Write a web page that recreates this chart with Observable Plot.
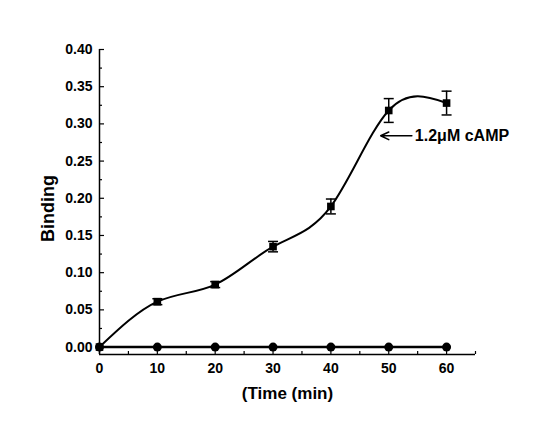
<!DOCTYPE html>
<html>
<head>
<meta charset="utf-8">
<script src="https://cdn.jsdelivr.net/npm/d3@7"></script>
<script src="https://cdn.jsdelivr.net/npm/@observablehq/plot@0.6"></script>
<style>
  html, body { margin: 0; padding: 0; background: #fff; }
  svg { font-family: "Liberation Sans", Arial, sans-serif; }
</style>
</head>
<body>
<div id="chart"></div>
<script>
const times = [0, 10, 20, 30, 40, 50, 60];
const campBinding = [0.000, 0.061, 0.084, 0.135, 0.189, 0.318, 0.328];
const campError = [0.000, 0.004, 0.004, 0.007, 0.010, 0.016, 0.016];
const controlBinding = [0, 0, 0, 0, 0, 0, 0];
const xMajorTicks = [0, 10, 20, 30, 40, 50, 60];
const xMinorTicks = [5, 15, 25, 35, 45, 55, 65];
const yMajorTicks = [0, 0.05, 0.10, 0.15, 0.20, 0.25, 0.30, 0.35, 0.40];
const yMinorTicks = [0.025, 0.075, 0.125, 0.175, 0.225, 0.275, 0.325, 0.375];
const annotationText = "1.2\u03bcM cAMP";
const annotationArrow = {x1: 54.0, x2: 48.6, y: 0.284};
const xLabel = "(Time (min)";
const yLabel = "Binding";

const camp = times.map((t, i) => ({x: t, y: campBinding[i], e: campError[i]}));
const campErr = camp.filter(d => d.e > 0);
const control = times.map((t, i) => ({x: t, y: controlBinding[i]}));

const capSymbol = {
  draw(context) {
    context.moveTo(-5, 0);
    context.lineTo(5, 0);
  }
};

const chart = Plot.plot({
  width: 552,
  height: 426,
  marginLeft: 99,
  marginRight: 77,
  marginTop: 49,
  marginBottom: 72,
  style: {fontFamily: "'Liberation Sans', Arial, sans-serif", background: "#fff"},
  x: {domain: [0, 65], label: null},
  y: {domain: [-0.01, 0.40], label: null},
  marks: [
    // axis lines
    Plot.ruleY([-0.01], {x1: 0, x2: 65, stroke: "black", strokeWidth: 1.5}),
    Plot.ruleX([0], {y1: -0.01, y2: 0.40, stroke: "black", strokeWidth: 1.5}),
    // tick marks (inward)
    Plot.axisX({ticks: xMajorTicks, tickSize: -5, tickFormat: () => "", strokeWidth: 1.2, label: null}),
    Plot.axisX({ticks: xMinorTicks, tickSize: -3, tickFormat: () => "", strokeWidth: 1.2, label: null}),
    Plot.axisY({ticks: yMajorTicks, tickSize: -5, tickFormat: () => "", strokeWidth: 1.2, label: null}),
    Plot.axisY({ticks: yMinorTicks, tickSize: -3, tickFormat: () => "", strokeWidth: 1.2, label: null}),
    // tick labels
    Plot.axisX({ticks: xMajorTicks, tickSize: 0, tickPadding: 9, tickFormat: d3.format("d"),
      fontSize: 14, fontWeight: "bold", fill: "black", label: null}),
    Plot.axisY({ticks: yMajorTicks, tickSize: 0, tickPadding: 7, tickFormat: d3.format(".2f"),
      fontSize: 14, fontWeight: "bold", fill: "black", label: null}),
    // axis titles
    Plot.text([xLabel], {frameAnchor: "bottom", text: d => d, dy: 44, fontSize: 17, fontWeight: "bold", fill: "black"}),
    Plot.text([yLabel], {frameAnchor: "left", text: d => d, rotate: -90, dx: -51, dy: 40, fontSize: 18, fontWeight: "bold", fill: "black"}),
    // control series
    Plot.line(control, {x: "x", y: "y", stroke: "black", strokeWidth: 2.5}),
    Plot.dot(control, {x: "x", y: "y", r: 4.5, fill: "black", stroke: "none"}),
    // cAMP series
    Plot.line(camp, {x: "x", y: "y", curve: "natural", stroke: "black", strokeWidth: 2}),
    Plot.ruleX(campErr, {x: "x", y1: d => d.y - d.e, y2: d => d.y + d.e, stroke: "black", strokeWidth: 1.5}),
    Plot.dot(campErr, {x: "x", y: d => d.y + d.e, symbol: capSymbol, fill: "none", stroke: "black", strokeWidth: 1.5}),
    Plot.dot(campErr, {x: "x", y: d => d.y - d.e, symbol: capSymbol, fill: "none", stroke: "black", strokeWidth: 1.5}),
    Plot.dot(camp, {x: "x", y: "y", symbol: "square", r: 4.3, fill: "black", stroke: "none"}),
    // annotation
    Plot.arrow([annotationArrow], {x1: "x1", x2: "x2", y1: "y", y2: "y", headLength: 9, headAngle: 50, stroke: "black", strokeWidth: 1.5}),
    Plot.text([annotationArrow], {x: "x1", y: "y", text: () => annotationText, textAnchor: "start", dx: 3,
      fontSize: 16, fontWeight: "bold", fill: "black"})
  ]
});
document.getElementById("chart").appendChild(chart);
</script>
</body>
</html>
